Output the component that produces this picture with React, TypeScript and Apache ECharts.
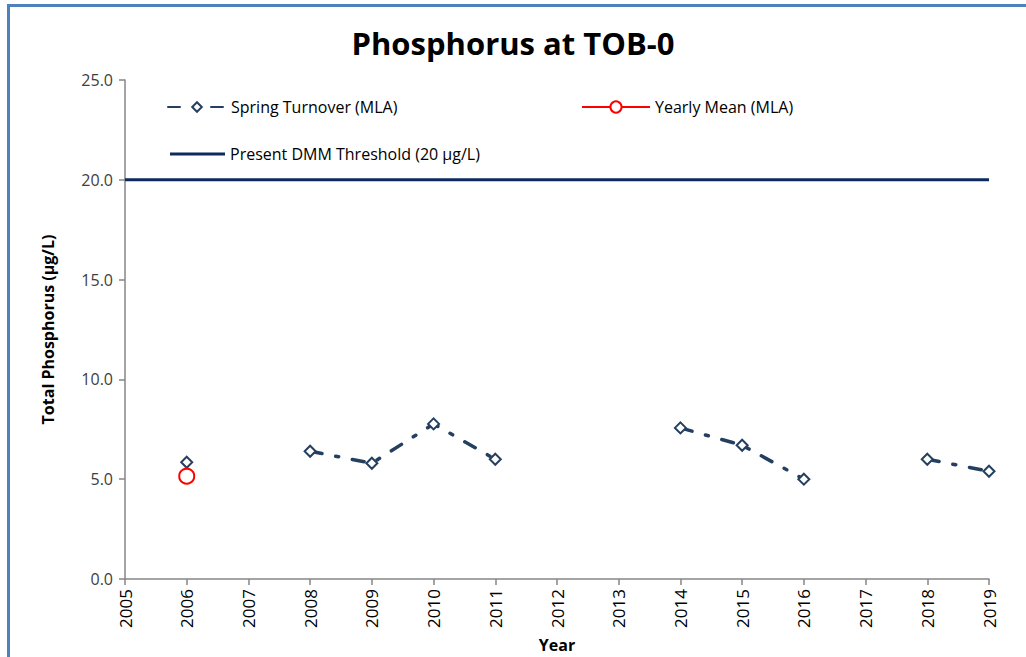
import React, { useEffect, useRef } from "react";
import * as echarts from "echarts";

const years = [2006, 2007, 2008, 2009, 2010, 2011, 2012, 2013, 2014, 2015, 2016, 2017, 2018, 2019];
const springTurnover: (number | null)[] = [5.85, null, 6.4, 5.8, 7.77, 6.0, null, null, 7.57, 6.7, 5.0, null, 6.0, 5.4];
const yearlyMeanYears = [2006];
const yearlyMean = [5.15];
const thresholdYears = [2005, 2019];
const thresholdValue = 20;

const FONT = "'Open Sans', 'Noto Sans', sans-serif";

export default function App() {
  const ref = useRef<HTMLDivElement>(null);
  useEffect(() => {
    document.body.style.margin = "0";
    const chart = echarts.init(ref.current!, null, { renderer: "svg" });
    const stData = years.map((y, i) => [y, springTurnover[i] === null ? "-" : springTurnover[i]]);
    const meanData = yearlyMeanYears.map((y, i) => [y, yearlyMean[i]]);
    const thrData = thresholdYears.map((y) => [y, thresholdValue]);
    const legendText = { fontFamily: FONT, fontSize: 16, color: "#000" };
    chart.setOption({
      animation: false,
      backgroundColor: "#fff",
      title: {
        text: "Phosphorus at TOB-0",
        left: "center",
        top: 22,
        textStyle: { fontFamily: FONT, fontWeight: "bold", fontSize: 31, color: "#000" },
      },
      graphic: [
        {
          type: "rect",
          shape: { x: 8.5, y: 5.5, width: 1100, height: 800 },
          style: { fill: "none", stroke: "#4f81bd", lineWidth: 3 },
          silent: true,
        },
      ],
      legend: [
        {
          data: ["Spring Turnover (MLA)"],
          left: 162,
          top: 94,
          itemWidth: 58,
          itemHeight: 12,
          itemGap: 6,
          textStyle: legendText,
        },
        {
          data: ["Yearly Mean (MLA)"],
          left: 576,
          top: 94,
          itemWidth: 68,
          itemHeight: 14,
          textStyle: legendText,
        },
        {
          data: [{ name: "Present DMM Threshold (20 µg/L)", icon: "rect" }],
          left: 165,
          top: 141,
          itemWidth: 55,
          itemHeight: 3,
          textStyle: legendText,
        },
      ],
      grid: { left: 125, right: 37, top: 80, bottom: 78, containLabel: false, outerBoundsMode: "none" },
      xAxis: {
        type: "value",
        min: 2005,
        max: 2019,
        interval: 1,
        name: "Year",
        nameLocation: "middle",
        nameGap: 58,
        nameTextStyle: { fontFamily: FONT, fontWeight: "bold", fontSize: 16, color: "#000" },
        axisLine: { show: true, lineStyle: { color: "#868686", width: 1.5 } },
        axisTick: { show: true, inside: false, length: 6, lineStyle: { color: "#868686", width: 1.5 } },
        splitLine: { show: false },
        axisLabel: {
          rotate: 90,
          fontFamily: FONT,
          fontSize: 17,
          color: "#000",
          margin: 10,
          formatter: (v: number) => String(v),
        },
      },
      yAxis: {
        type: "value",
        min: 0,
        max: 25,
        interval: 5,
        name: "Total Phosphorus (µg/L)",
        nameLocation: "middle",
        nameGap: 69,
        nameTextStyle: { fontFamily: FONT, fontWeight: "bold", fontSize: 16, color: "#000" },
        axisLine: { show: true, lineStyle: { color: "#868686", width: 1.5 } },
        axisTick: { show: true, inside: false, length: 6, lineStyle: { color: "#868686", width: 1.5 } },
        splitLine: { show: false },
        axisLabel: {
          fontFamily: FONT,
          fontSize: 16,
          color: "#404040",
          margin: 12,
          formatter: (v: number) => v.toFixed(1),
        },
      },
      series: [
        {
          name: "Present DMM Threshold (20 µg/L)",
          type: "line",
          data: thrData,
          symbol: "none",
          lineStyle: { color: "#0d2a5e", width: 3 },
          itemStyle: { color: "#0d2a5e" },
          z: 1,
        },
        {
          name: "Spring Turnover (MLA)",
          type: "line",
          data: stData,
          connectNulls: false,
          symbol: "emptyDiamond",
          symbolSize: 11,
          showAllSymbol: true,
          lineStyle: { color: "#243f60", width: 3.5, type: [12, 14, 3, 14], cap: "round" },
          itemStyle: { color: "#243f60", borderColor: "#243f60", borderWidth: 2 },
          z: 3,
        },
        {
          name: "Yearly Mean (MLA)",
          type: "line",
          data: meanData,
          symbol: "emptyCircle",
          symbolSize: 15,
          lineStyle: { color: "#ff0000", width: 3 },
          itemStyle: { color: "#ff0000", borderColor: "#ff0000", borderWidth: 2 },
          z: 4,
        },
      ],
    });
    return () => chart.dispose();
  }, []);
  return <div ref={ref} style={{ width: 1026, height: 657 }} />;
}
